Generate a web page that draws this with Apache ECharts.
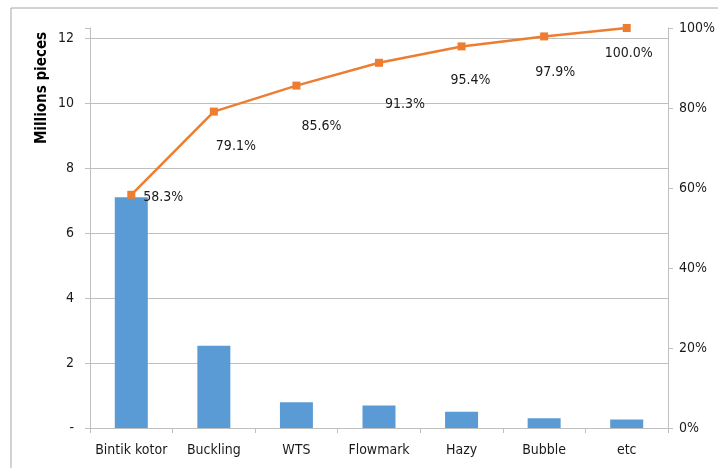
<!DOCTYPE html>
<html><head><meta charset="utf-8">
<script src="https://cdn.jsdelivr.net/npm/echarts@6/dist/echarts.min.js"></script>
<style>html,body{margin:0;padding:0;background:#fff}#c{width:718px;height:468px}</style>
</head><body><div id="c"></div>
<script>
var categories = ['Bintik kotor','Buckling','WTS','Flowmark','Hazy','Bubble','etc'];
var defects = [7.1, 2.53, 0.79, 0.69, 0.50, 0.30, 0.26];
var cumulativePct = [58.3, 79.1, 85.6, 91.3, 95.4, 97.9, 100.0];
var leftTicks = [0, 2, 4, 6, 8, 10, 12];
var rightTicks = [0, 20, 40, 60, 80, 100];
// label offsets (style, not data)
var labelOffsets = [[32,3],[22,35],[25,41],[26,42],[9,34],[11,36],[2,25]];

var FONT = '"Liberation Sans Narrow","DejaVu Sans Condensed",sans-serif';
var chart = echarts.init(document.getElementById('c'));
var lineData = cumulativePct.map(function(v,i){
  return {value:v, label:{offset:labelOffsets[i]}};
});
chart.setOption({
  animation:false,
  textStyle:{fontFamily:FONT},
  graphic:[
    {type:'rect', shape:{x:11,y:8,width:760,height:520}, style:{fill:'none', stroke:'#A6A6A6', lineWidth:1}, silent:true},
    {type:'text', x:42, y:88, rotation:Math.PI/2,
     style:{text:'Millions pieces', font:'bold 15px "DejaVu Sans Condensed","Liberation Sans",sans-serif', fill:'#000', textAlign:'center', textVerticalAlign:'middle'}}
  ],
  grid:{left:90, right:45, top:28, bottom:40},
  xAxis:{type:'category', data:categories,
    axisLine:{lineStyle:{color:'#BFBFBF'}},
    axisTick:{show:true, length:5, lineStyle:{color:'#BFBFBF'}},
    axisLabel:{color:'#1a1a1a', fontSize:14, fontFamily:FONT, margin:15, interval:0}
  },
  yAxis:[
    {type:'value', min:0, max:12*400/390, interval:2,
     axisLine:{show:true, lineStyle:{color:'#BFBFBF'}},
     axisTick:{show:true, length:5, lineStyle:{color:'#BFBFBF'}},
     splitLine:{show:true, showMaxLine:false, lineStyle:{color:'#BFBFBF'}},
     axisLabel:{color:'#1a1a1a', fontSize:14, fontFamily:FONT, margin:16,
       formatter:function(v){ if(leftTicks.indexOf(v)<0) return ''; return v===0?'-':String(v);} }
    },
    {type:'value', min:0, max:100, interval:20, position:'right',
     axisLine:{show:true, lineStyle:{color:'#BFBFBF'}},
     axisTick:{show:true, length:5, lineStyle:{color:'#BFBFBF'}},
     splitLine:{show:false},
     axisLabel:{color:'#1a1a1a', fontSize:14, fontFamily:FONT, margin:11,
       formatter:function(v){ return rightTicks.indexOf(v)<0?'':v+'%'; } }
    }
  ],
  series:[
    {type:'bar', data:defects, barWidth:33, yAxisIndex:0,
     itemStyle:{color:'#5B9BD5'}},
    {type:'line', data:lineData, yAxisIndex:1, symbol:'rect', symbolSize:8,
     lineStyle:{color:'#ED7D31', width:2.5}, itemStyle:{color:'#ED7D31'},
     label:{show:true, position:'inside', color:'#1a1a1a', fontSize:14, fontFamily:FONT,
       formatter:function(p){return p.value.toFixed(1)+'%';}}
    }
  ]
});
</script></body></html>
